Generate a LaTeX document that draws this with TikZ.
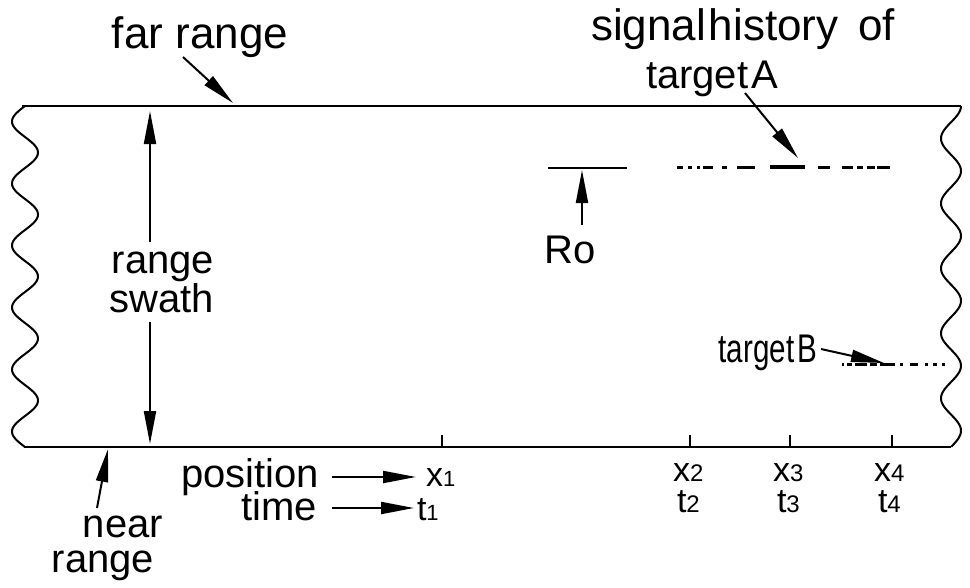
\documentclass[tikz,border=0pt]{standalone}
\usepackage{fontspec}
\setmainfont{Liberation Sans}
\newfontfamily\narrowfont[FakeStretch=0.74]{Liberation Sans}
\usetikzlibrary{arrows.meta}
\begin{document}
\begin{tikzpicture}[x=1pt,y=-1pt,line width=2pt,
  lbl/.style={inner sep=0pt,font=\fontsize{40}{40}\selectfont},
  big/.style={inner sep=0pt,font=\fontsize{44}{44}\selectfont},
  nar/.style={inner sep=0pt,font=\narrowfont\fontsize{40}{40}\selectfont},
  idx/.style={inner sep=0pt,font=\fontsize{34}{34}\selectfont},
  tip/.style={-{Triangle[length=33pt,width=12pt]}},
  sig/.style={line width=3pt}]
\useasboundingbox (0,0) rectangle (970,587);
% frame
\draw (22,106) -- (961,106);
\draw (24,447) -- (951,447);
\draw plot[variable=\t,domain=0:1,samples=220,smooth] ({25-13*sin(360*5.5*\t)},{106+341*\t});
\draw plot[variable=\t,domain=0:1,samples=220,smooth] ({951+10*cos(360*5.25*\t)},{106+341*\t});
% ticks
\foreach \xx/\nm in {442/k1,690/k2,790/k3,892/k4}{
  \coordinate (\nm) at (\xx,447);
  \draw (\nm) -- ++(0,-12);
}
% far range
\node[big,anchor=base] (far) at (200,48) {far range};
\coordinate (farA) at (183,57);
\coordinate (farB) at (233,103);
\draw[tip] (farA) -- (farB);

% signal history of target A
\node[big,anchor=base west] (sig) at (590,40) {signal\hspace{3pt}history\hspace{20pt}of};
\node[lbl,anchor=base west] (tA) at (645,88) {target\hspace{3pt}A};
\coordinate (tAa) at (745,93);
\coordinate (tAb) at (798,158);
\draw[tip] (tAa) -- (tAb);

% range swath
\node[lbl,anchor=base] (rs1) at (163,273) {range};
\node[lbl,anchor=base] (rs2) at (162,312) {swath};
\coordinate (sw1) at (150,242);
\coordinate (swTop) at (150,111);
\coordinate (sw2) at (150,322);
\coordinate (swBot) at (150,444);
\draw[tip] (sw1) -- (swTop);
\draw[tip] (sw2) -- (swBot);

% Ro
\coordinate (roL) at (548,168);
\coordinate (roR) at (627,168);
\draw (roL) -- (roR);
\node[lbl,anchor=base] (ro) at (570,263) {Ro};
\coordinate (roA) at (582,225);
\coordinate (roB) at (582,170);
\draw[tip] (roA) -- (roB);

\foreach \a/\b in {677/683,688/692,697/700,703/713,722/727,737/755,818/830,842/853,857/863,867/875,877/890}{
  \draw[sig] (\a,167) -- (\b,167);
}
\draw[line width=4pt] (770,167) -- (805,167);

% target B
\node[nar,anchor=base east] (tB) at (818,362) {target\hspace{3pt}B};
\coordinate (tBa) at (821,349);
\coordinate (tBb) at (884,363);
\draw[tip] (tBa) -- (tBb);
\foreach \a/\b in {842/844,847/852,855/867,870/877,880/895,900/903,910/918,925/928,933/937,942/945}{
  \draw[sig] (\a,364) -- (\b,364);
}

% near range
\node[lbl,anchor=base] (near) at (123,537) {near};
\node[lbl,anchor=base] (nr) at (103,572) {range};
\coordinate (nA) at (97,508);
\coordinate (nB) at (108,449);
\draw[tip] (nA) -- (nB);

% position / time
\node[lbl,anchor=base east] (pos) at (320,487) {position};
\node[lbl,anchor=base east] (time) at (318,520) {time};
\node[idx,anchor=base west] (x1) at (425,486) {x{\fontsize{22}{22}\selectfont 1}};
\node[idx,anchor=base west] (t1) at (416,520) {t{\fontsize{22}{22}\selectfont 1}};
\coordinate (pA) at (332,477);
\coordinate (pB) at (416,477);
\coordinate (tmA) at (332,508);
\coordinate (tmB) at (414,508);
\draw[tip] (pA) -- (pB);
\draw[tip] (tmA) -- (tmB);

\foreach \xx/\n in {672/2,772/3,873/4}{
  \node[idx,anchor=base west] (x\n) at (\xx,481) {x{\fontsize{24}{24}\selectfont \n}};
  \node[idx,anchor=base west] (t\n) at (\xx+4,512) {t{\fontsize{24}{24}\selectfont \n}};
}
\end{tikzpicture}
\end{document}
